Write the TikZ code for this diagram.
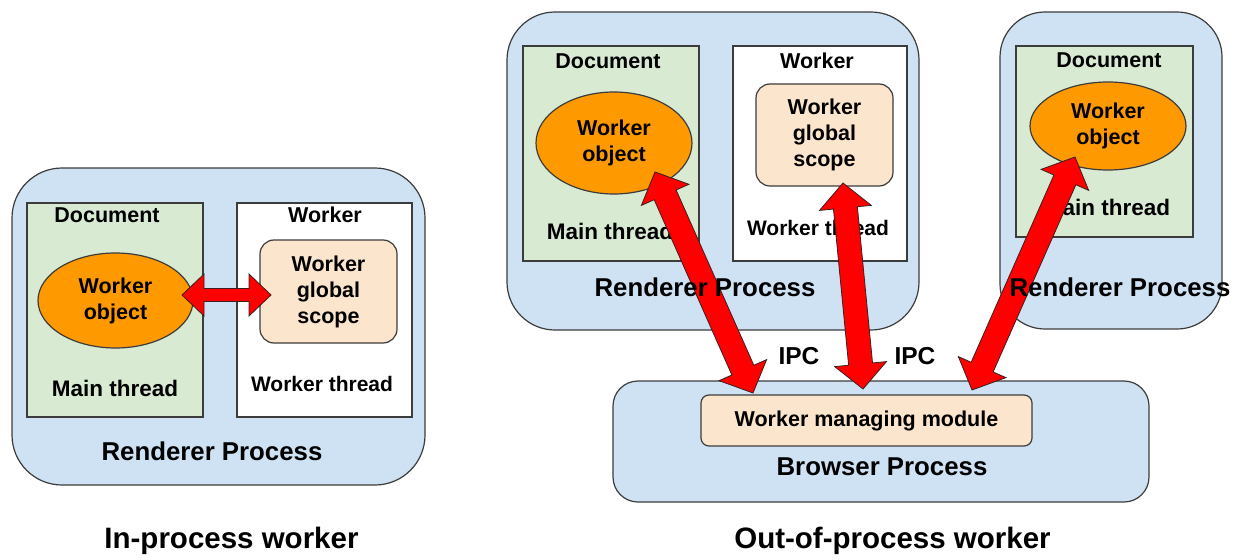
\documentclass[tikz,border=0pt]{standalone}
\usepackage{fontspec}
\setmainfont{Liberation Sans}
\usetikzlibrary{calc,shapes.geometric}
\definecolor{procblue}{HTML}{CFE2F3}
\definecolor{docgreen}{HTML}{D9EAD3}
\definecolor{wkorange}{HTML}{FF9900}
\definecolor{peach}{HTML}{FCE5CD}
\definecolor{edgegray}{HTML}{3C3C3C}
\definecolor{arrowred}{HTML}{FF0000}
\definecolor{arrowedge}{HTML}{3A2020}
\newcommand\fatarrow[5]{%
  \path[fatarr] let \p1=($(#2)-(#1)$), \n1={atan2(\y1,\x1)}, \n2={veclen(\x1,\y1)} in
    [shift={(#1)}, rotate=\n1]
    (0pt,0pt) -- (#5pt,#4pt) -- (#5pt,#3pt) -- (\n2-#5pt,#3pt) -- (\n2-#5pt,#4pt)
    -- (\n2+0pt,0pt) -- (\n2-#5pt,-#4pt) -- (\n2-#5pt,-#3pt) -- (#5pt,-#3pt) -- (#5pt,-#4pt) -- cycle;}
\begin{document}
\begin{tikzpicture}[x=1pt,y=-1pt,
  box/.style={draw=edgegray, line width=1.2pt, inner sep=0pt, outer sep=0pt},
  proc/.style={box, fill=procblue, rounded corners=#1},
  proc/.default=45pt,
  docbox/.style={box, fill=docgreen},
  wkbox/.style={box, fill=white},
  wobj/.style={box, ellipse, fill=wkorange, align=center, font=\fontsize{21.5}{26}\selectfont\bfseries},
  gscope/.style={box, fill=peach, rounded corners=14pt, align=center, font=\fontsize{21.5}{26}\selectfont\bfseries},
  lbl/.style={font=\fontsize{21.5}{26}\selectfont\bfseries, inner sep=0pt},
  thr/.style={font=\fontsize{22.5}{26}\selectfont\bfseries, inner sep=0pt},
  plbl/.style={font=\fontsize{25.8}{30}\selectfont\bfseries, inner sep=0pt},
  captxt/.style={font=\fontsize{29.5}{34}\selectfont\bfseries, inner sep=0pt},
  fatarr/.style={fill=arrowred, draw=arrowedge, line width=0.8pt, line join=miter}
]
\useasboundingbox (0,0) rectangle (1233,559);

% ---------- In-process worker ----------
\node[proc=50pt, minimum width=413pt, minimum height=317pt] (rpL) at (218.5,326.5) {};
\node[docbox, minimum width=176pt, minimum height=214pt] (docL) at (115,310) {};
\node[wkbox, minimum width=175pt, minimum height=214pt] (wkL) at (324.5,310) {};
\node[lbl] (docLt) at (107,215) {Document};
\node[lbl] (wkLt) at (325,215) {Worker};
\node[wobj, minimum width=155pt, minimum height=95pt] (objL) at (115.5,300.5) {Worker\\object};
\node[gscope, minimum width=137pt, minimum height=103pt] (gsL) at (328.5,291.5) {Worker\\global\\scope};
\node[thr] (mtL) at (115,388) {Main thread};
\node[thr, font=\fontsize{21}{26}\selectfont\bfseries] (wtL) at (322,384) {Worker thread};
\coordinate (aL1) at (182,295);
\coordinate (aL2) at (271,295);
\fatarrow{aL1}{aL2}{6.5}{21}{22}
\node[plbl] (rpLt) at (212,451) {Renderer Process};
\node[captxt] (capL) at (231.5,541) {In-process worker};

% ---------- Out-of-process worker ----------
\node[proc=48pt, minimum width=412pt, minimum height=318pt] (rp1) at (713,171) {};
\node[docbox, minimum width=176pt, minimum height=215pt] (doc1) at (611,153.5) {};
\node[wkbox, minimum width=174pt, minimum height=215pt] (wk1) at (820,153.5) {};
\node[lbl] (doc1t) at (608,61) {Document};
\node[lbl] (wk1t) at (817,61) {Worker};
\node[wobj, minimum width=156pt, minimum height=102pt] (obj1) at (614,143) {Worker\\object};
\node[gscope, minimum width=137pt, minimum height=102pt] (gs1) at (824.5,135) {Worker\\global\\scope};
\node[thr] (mt1) at (610,231) {Main thread};
\node[thr, font=\fontsize{21}{26}\selectfont\bfseries] (wt1) at (818,228) {Worker thread};

\node[proc=45pt, minimum width=222pt, minimum height=317pt] (rp2) at (1111,170.5) {};
\node[docbox, minimum width=177pt, minimum height=191pt] (doc2) at (1104.5,141.5) {};
\node[lbl] (doc2t) at (1109,60) {Document};
\node[wobj, minimum width=156pt, minimum height=88pt] (obj2) at (1108,126) {Worker\\object};
\node[thr] (mt2) at (1107,207) {Main thread};

\node[proc=25pt, minimum width=536pt, minimum height=121pt] (bp) at (881,441.5) {};
\node[box, fill=peach, rounded corners=8pt, minimum width=331pt, minimum height=51pt, lbl] (wmm) at (866.5,420.5) {Worker managing module};
\node[plbl] (bpt) at (882,467) {Browser Process};

\node[plbl, font=\fontsize{24.5}{30}\selectfont\bfseries] (ipc1) at (799,356) {IPC};
\node[plbl, font=\fontsize{24.5}{30}\selectfont\bfseries] (ipc2) at (915,356) {IPC};

\coordinate (a1s) at (655,172);
\coordinate (a1e) at (753,393);
\coordinate (a2s) at (843,183);
\coordinate (a2e) at (863,389);
\coordinate (a3s) at (1075,157);
\coordinate (a3e) at (972,390);
\fatarrow{a1s}{a1e}{12}{26}{25}
\fatarrow{a2s}{a2e}{12}{26}{25}
\fatarrow{a3s}{a3e}{12}{26}{25}

\node[plbl] (rp1t) at (705,287) {Renderer Process};
\node[plbl] (rp2t) at (1120,287) {Renderer Process};
\node[captxt] (capR) at (892.5,541) {Out-of-process worker};
\end{tikzpicture}
\end{document}
